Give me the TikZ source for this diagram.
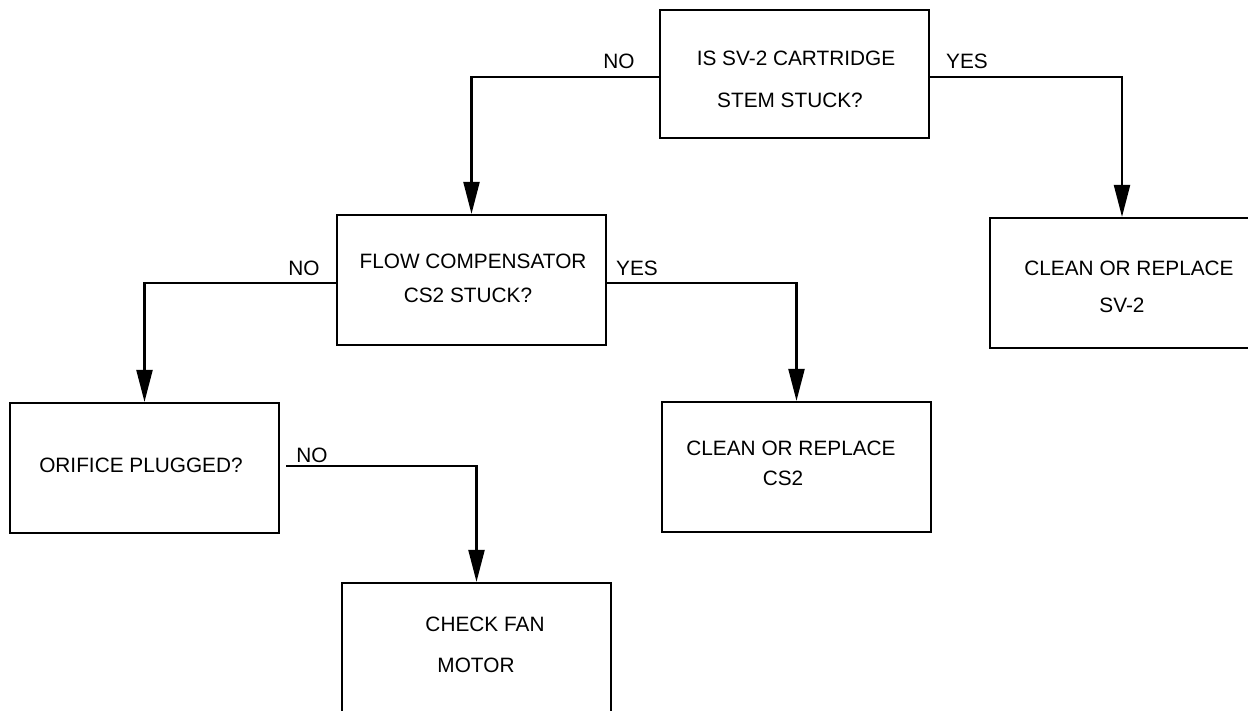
\documentclass[tikz,border=0pt]{standalone}
\usepackage{fontspec}
\setmainfont{Liberation Sans}
\usetikzlibrary{arrows.meta,calc}
\begin{document}
\begin{tikzpicture}[x=1pt,y=-1pt,
  box/.style={draw,line width=2.2pt,rectangle,minimum width=269pt,minimum height=130pt,inner sep=0pt},
  txt/.style={anchor=base,inner sep=0pt,font=\fontsize{20.8}{24}\selectfont},
  conn/.style={line width=2.2pt},
  arr/.style={line width=2.2pt,-{Triangle[length=32pt,width=16pt]}}]
\useasboundingbox (0,0) rectangle (1248,710);
\clip (0,0) rectangle (1248,710);
% boxes
\node[box] (b1) at (794.5,74) [minimum height=128pt] {};
\node[box] (b2) at (471.5,280) {};
\node[box,minimum width=264pt] (b3) at (1122,283) {};
\node[box] (b4) at (144.5,468) {};
\node[box] (b5) at (796.5,467) {};
\node[box] (b6) at (476.5,648) {};
% box texts
\node[txt] (t1a) at (796,65) {IS SV-2 CARTRIDGE};
\node[txt] (t1b) at (790,107) {STEM STUCK?};
\node[txt] (t2a) at (473,268) {FLOW COMPENSATOR};
\node[txt] (t2b) at (468,302) {CS2 STUCK?};
\node[txt] (t3a) at (1129,275) {CLEAN OR REPLACE};
\node[txt] (t3b) at (1122,312) {SV-2};
\node[txt] (t4) at (141,472) {ORIFICE PLUGGED?};
\node[txt] (t5a) at (791,455) {CLEAN OR REPLACE};
\node[txt] (t5b) at (783,485) {CS2};
\node[txt] (t6a) at (485,631) {CHECK FAN};
\node[txt] (t6b) at (476,672) {MOTOR};
% labels
\node[txt] (l1) at (619,68) {NO};
\node[txt] (l2) at (967,68) {YES};
\node[txt] (l3) at (304,275) {NO};
\node[txt] (l4) at (637,275) {YES};
\node[txt] (l5) at (312,462) {NO};
% connectors
\coordinate (s1) at ($(b1.west)+(0,3)$);
\coordinate (s2) at ($(b1.east)+(0,3)$);
\coordinate (s3) at ($(b2.west)+(0,3)$);
\coordinate (s4) at ($(b2.east)+(0,3)$);
\coordinate (s5) at ($(b4.east)+(6,-2)$);
\draw[arr] (s1) -| (b2.north);
\draw[arr] (s2) -| (b3.north);
\draw[arr] (s3) -| (b4.north);
\draw[arr] (s4) -| (b5.north);
\draw[arr] (s5) -| (b6.north);
\end{tikzpicture}
\end{document}
